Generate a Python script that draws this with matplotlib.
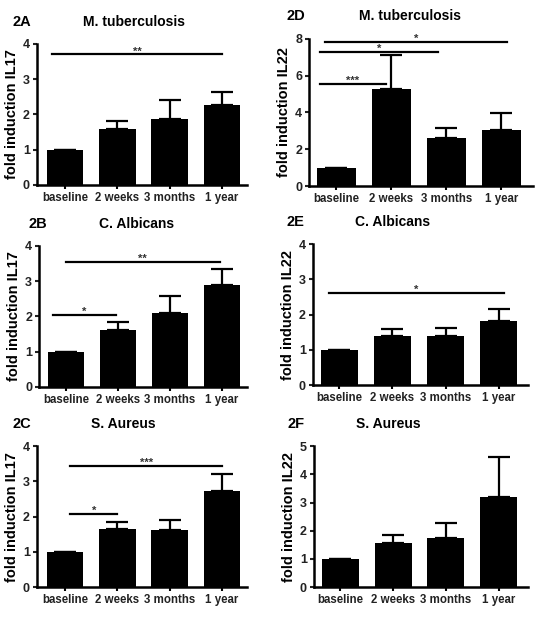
import numpy as np
import matplotlib.pyplot as plt

plt.rcParams['font.family'] = ['Liberation Sans', 'DejaVu Sans']
plt.rcParams['font.weight'] = 'bold'
plt.rcParams['axes.labelweight'] = 'bold'

groups = ["baseline", "2 weeks", "3 months", "1 year"]

# means and upper error bar ends
il17_mtb = [1.0, 1.57, 1.88, 2.26]
il17_mtb_top = [1.0, 1.82, 2.40, 2.62]
il17_cand = [1.0, 1.62, 2.10, 2.88]
il17_cand_top = [1.0, 1.83, 2.57, 3.36]
il17_saur = [1.0, 1.65, 1.63, 2.73]
il17_saur_top = [1.0, 1.85, 1.90, 3.20]
il22_mtb = [1.0, 5.3, 2.6, 3.05]
il22_mtb_top = [1.0, 7.1, 3.15, 3.97]
il22_cand = [1.0, 1.40, 1.40, 1.82]
il22_cand_top = [1.0, 1.60, 1.63, 2.17]
il22_saur = [1.0, 1.57, 1.73, 3.18]
il22_saur_top = [1.0, 1.85, 2.27, 4.60]

# significance bars: (x start, x end, height, label)
sig_2a = [(-0.25, 3.0, 3.7, "**")]
sig_2b = [(-0.25, 0.95, 2.05, "*"), (0.0, 2.95, 3.55, "**")]
sig_2c = [(0.1, 1.0, 2.07, "*"), (0.1, 3.0, 3.43, "***")]
sig_2d = [(-0.3, 0.9, 5.55, "***"), (-0.3, 1.85, 7.3, "*"), (-0.2, 3.1, 7.85, "*")]
sig_2e = [(-0.2, 3.1, 2.62, "*")]
sig_2f = []

# tag, title, ylabel, values, tops, sig, ymax, step, axes rect, xlim, tag x, title x
panels = [
    ("2A", "M. tuberculosis", "fold induction IL17", il17_mtb, il17_mtb_top, sig_2a, 4, 1,
     [0.068, 0.701, 0.387, 0.228], (-0.54, 3.48), -0.114, 0.46),
    ("2B", "C. Albicans", "fold induction IL17", il17_cand, il17_cand_top, sig_2b, 4, 1,
     [0.072, 0.374, 0.383, 0.228], (-0.52, 3.48), -0.05, 0.47),
    ("2C", "S. Aureus", "fold induction IL17", il17_saur, il17_saur_top, sig_2c, 4, 1,
     [0.068, 0.050, 0.387, 0.228], (-0.54, 3.48), -0.115, 0.41),
    ("2D", "M. tuberculosis", "fold induction IL22", il22_mtb, il22_mtb_top, sig_2d, 8, 2,
     [0.569, 0.699, 0.413, 0.238], (-0.5, 3.58), -0.10, 0.45),
    ("2E", "C. Albicans", "fold induction IL22", il22_cand, il22_cand_top, sig_2e, 4, 1,
     [0.576, 0.377, 0.396, 0.228], (-0.5, 3.55), -0.12, 0.37),
    ("2F", "S. Aureus", "fold induction IL22", il22_saur, il22_saur_top, sig_2f, 5, 1,
     [0.578, 0.050, 0.394, 0.228], (-0.5, 3.55), -0.125, 0.35),
]

fig = plt.figure(figsize=(5.43, 6.18), dpi=100)

for tag, title, ylab, vals, tops, sigs, ymax, ystep, rect, xl, tagx, titx in panels:
    ax = fig.add_axes(rect)
    x = np.arange(len(groups))
    err = np.array(tops) - np.array(vals)
    ax.bar(x, vals, width=0.7, color="black", zorder=2)
    ax.errorbar(x, vals, yerr=[np.zeros(len(err)), err], fmt="none", ecolor="black",
                elinewidth=1.6, capsize=8, capthick=1.6, zorder=1)
    for x0, x1, h, lab in sigs:
        ax.plot([x0, x1], [h, h], color="black", lw=1.6, clip_on=False)
        ax.text((x0 + x1) / 2, h, lab, ha="center", va="baseline",
                fontsize=8, color="#333333", zorder=5)
    ax.set_ylim(0, ymax)
    ax.set_xlim(*xl)
    ax.set_yticks(np.arange(0, ymax + 0.1, ystep))
    ax.set_xticks(x)
    ax.set_xticklabels(groups, fontsize=8.3, color="#222222")
    ax.tick_params(axis="y", labelsize=9, colors="#222222", width=1.5, length=3, pad=2)
    ax.tick_params(axis="x", width=1.5, length=3, pad=2)
    for s in ["top", "right"]:
        ax.spines[s].set_visible(False)
    for s in ["left", "bottom"]:
        ax.spines[s].set_linewidth(1.8)
    ax.set_ylabel(ylab, fontsize=10.5, fontweight="bold", labelpad=3)
    ax.text(tagx, 1.155, tag, transform=ax.transAxes, fontsize=10.5, fontweight="bold",
            ha="left", va="center")
    ax.text(titx, 1.155, title, transform=ax.transAxes, fontsize=10, fontweight="bold",
            ha="center", va="center")

fig.savefig("out.png", dpi=100)
